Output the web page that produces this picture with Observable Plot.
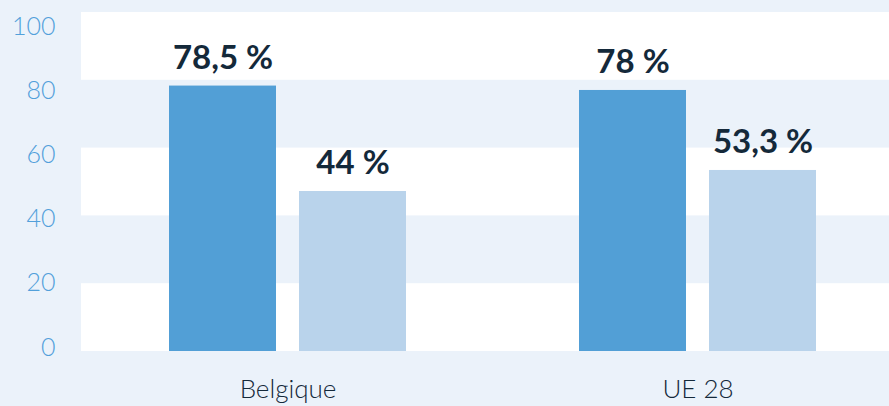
<!DOCTYPE html>
<html>
<head>
<meta charset="utf-8">
<script src="https://cdn.jsdelivr.net/npm/d3@7"></script>
<script src="https://cdn.jsdelivr.net/npm/@observablehq/plot@0.6"></script>
<style>
  html, body { margin: 0; padding: 0; background: #ebf2fa; }
  #wrap { position: relative; width: 889px; height: 406px; overflow: hidden; }
  #wrap svg { position: absolute; left: 0; top: 0; background: transparent; }
</style>
</head>
<body>
<div id="wrap"></div>
<script>
// Data
const groups = ["Belgique", "UE 28"];
const seriesA = [78.3, 77.0];          // darker bars (heights as drawn)
const seriesB = [47.2, 53.4];          // lighter bars (heights as drawn)
const labelsA = ["78,5 %", "78 %"];
const labelsB = ["44 %", "53,3 %"];
const yTicks = [0, 20, 40, 60, 80, 100];
const bandStarts = [0, 40, 80];

const dataA = groups.map((g, i) => ({group: g, value: seriesA[i], label: labelsA[i]}));
const dataB = groups.map((g, i) => ({group: g, value: seriesB[i], label: labelsB[i]}));
const bands = bandStarts.map(s => ({lo: s, hi: s + 20}));

const W = 889, H = 406;
const font = "Lato, 'Noto Sans', sans-serif";

const main = Plot.plot({
  width: W,
  height: H,
  marginTop: 12,
  marginBottom: 55,
  marginLeft: 81,
  marginRight: 0,
  style: {background: "transparent", fontFamily: font},
  x: {domain: groups, paddingInner: 0.422, paddingOuter: 0.196, align: 0.547, label: null},
  y: {domain: [0, 100], axis: null},
  marks: [
    Plot.rectY(bands, {y1: "lo", y2: "hi", fill: "white"}),
    Plot.barY(dataA, {x: "group", y: "value", fill: "#529fd6", insetRight: 130}),
    Plot.barY(dataB, {x: "group", y: "value", fill: "#b9d3eb", insetLeft: 130}),
    Plot.text(dataA, {x: "group", y: "value", text: "label", dx: -65, dy: -28,
      fill: "#14293a", fontSize: 33, fontWeight: "bold", lineAnchor: "middle"}),
    Plot.text(dataB, {x: "group", y: "value", text: "label", dx: 65, dy: -28,
      fill: "#14293a", fontSize: 33, fontWeight: "bold", lineAnchor: "middle"}),
    Plot.axisX({tickSize: 0, tickPadding: 28, fontSize: 26, fontWeight: 300,
      fill: "#14293a", stroke: "#14293a", strokeWidth: 0.2, label: null})
  ]
});

const axis = Plot.plot({
  width: 81,
  height: H,
  marginTop: 26,
  marginBottom: 59,
  marginLeft: 60,
  marginRight: 21,
  style: {background: "transparent", fontFamily: font},
  x: {axis: null},
  y: {domain: [0, 100], ticks: yTicks, label: null},
  marks: [
    Plot.axisY(yTicks, {tickSize: 0, tickPadding: 5, fontSize: 25, fontWeight: 300,
      fill: "#52a0da", stroke: "#52a0da", strokeWidth: 0.5, label: null})
  ]
});

const wrap = document.getElementById("wrap");
wrap.appendChild(main);
wrap.appendChild(axis);
</script>
</body>
</html>
